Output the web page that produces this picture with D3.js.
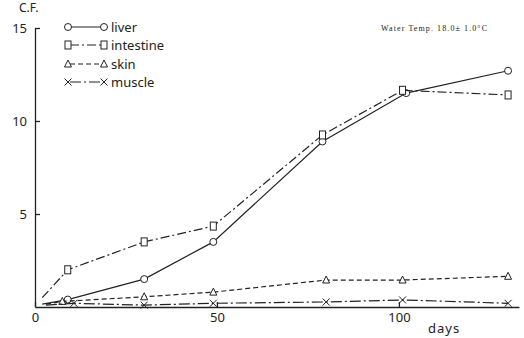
<!DOCTYPE html>
<html>
<head>
<meta charset="utf-8">
<script src="https://cdn.jsdelivr.net/npm/d3@7"></script>
<style>
  body { margin: 0; background: #fff; }
  text { font-family: "Noto Sans", "DejaVu Sans", sans-serif; fill: #222; }
</style>
</head>
<body>
<script>
// values (days, condition factor)
var liverDays = [2, 9, 30, 49, 79, 102, 130];
var liverCF = [0.15, 0.4, 1.5, 3.5, 8.9, 11.5, 12.7];
var intestineDays = [2, 9, 30, 49, 79, 101, 130];
var intestineCF = [0.5, 2.0, 3.5, 4.35, 9.25, 11.65, 11.4];
var skinDays = [3, 7.5, 30, 49, 80, 101, 130];
var skinCF = [0.15, 0.3, 0.55, 0.8, 1.45, 1.45, 1.65];
var muscleDays = [3, 10.7, 30, 49, 80, 101, 130];
var muscleCF = [0.1, 0.2, 0.1, 0.2, 0.27, 0.38, 0.2];
var yTicks = [5, 10, 15];
var xTicks = [0, 50, 100];

var width = 524, height = 338;
var svg = d3.select("body").append("svg")
    .attr("width", width)
    .attr("height", height);

var x = d3.scaleLinear().domain([0, 133]).range([35, 519]);
var y = d3.scaleLinear().domain([0, 15]).range([307, 28]);

// axes, ticks point inward
svg.append("g")
    .attr("transform", "translate(35,0)")
    .call(d3.axisLeft(y).tickValues(yTicks).tickSizeInner(-5).tickSizeOuter(0).tickPadding(8))
    .call(function (g) {
        g.selectAll("text").style("font-size", "13px").attr("fill", "#222");
        g.selectAll("line, path").attr("stroke", "#222").attr("stroke-width", 1.3);
    });

svg.append("g")
    .attr("transform", "translate(0,307)")
    .call(d3.axisBottom(x).tickValues(xTicks).tickSizeInner(-5).tickSizeOuter(0).tickPadding(6))
    .call(function (g) {
        g.selectAll("text").style("font-size", "13px").attr("fill", "#222");
        g.selectAll("line, path").attr("stroke", "#222").attr("stroke-width", 1.3);
    });

svg.append("text").attr("x", 19).attr("y", 12).style("font-size", "12px").text("C.F.");
svg.append("text").attr("x", 428).attr("y", 333).style("font-size", "13px")
    .style("letter-spacing", "1px").text("days");
svg.append("text").attr("x", 381).attr("y", 31)
    .attr("textLength", 106).attr("lengthAdjust", "spacing")
    .style("font-family", "'Liberation Serif', 'DejaVu Serif', serif")
    .style("font-size", "8px").text("Water Temp.  18.0± 1.0°C");

var series = [
    {name: "liver", days: liverDays, cf: liverCF, dash: null, mark: "circle", ly: 27},
    {name: "intestine", days: intestineDays, cf: intestineCF, dash: "9,3,2,3", mark: "square", ly: 45},
    {name: "skin", days: skinDays, cf: skinCF, dash: "5,3", mark: "triangle", ly: 64},
    {name: "muscle", days: muscleDays, cf: muscleCF, dash: "11,3,2,3", mark: "cross", ly: 82}
];

var line = d3.line()
    .x(function (d) { return x(d[0]); })
    .y(function (d) { return y(d[1]); });

function drawMark(g, kind, cx, cy) {
    if (kind === "circle") {
        g.append("circle").attr("cx", cx).attr("cy", cy).attr("r", 3.5);
    } else if (kind === "square") {
        g.append("rect").attr("x", cx - 3).attr("y", cy - 4).attr("width", 6).attr("height", 8);
    } else if (kind === "triangle") {
        g.append("path").attr("d", "M" + cx + "," + (cy - 4) + "L" + (cx + 3.5) + "," + (cy + 3) +
            "L" + (cx - 3.5) + "," + (cy + 3) + "Z");
    } else {
        g.append("path").attr("d", "M" + (cx - 3.5) + "," + (cy - 3.5) + "L" + (cx + 3.5) + "," + (cy + 3.5) +
            "M" + (cx + 3.5) + "," + (cy - 3.5) + "L" + (cx - 3.5) + "," + (cy + 3.5));
    }
}

series.forEach(function (s) {
    var pts = s.days.map(function (d, i) { return [d, s.cf[i]]; });
    svg.append("path")
        .datum(pts)
        .attr("d", line)
        .attr("fill", "none")
        .attr("stroke", "#222")
        .attr("stroke-width", 1.2)
        .attr("stroke-dasharray", s.dash);

    var mg = svg.append("g").attr("fill", "#fff").attr("stroke", "#222").attr("stroke-width", 1);
    pts.slice(1).forEach(function (p) {
        drawMark(mg, s.mark, x(p[0]), y(p[1]));
    });

    // legend
    svg.append("line")
        .attr("x1", 70).attr("x2", 103)
        .attr("y1", s.ly).attr("y2", s.ly)
        .attr("stroke", "#222").attr("stroke-width", 1.2)
        .attr("stroke-dasharray", s.dash);
    var lg = svg.append("g").attr("fill", "#fff").attr("stroke", "#222").attr("stroke-width", 1);
    drawMark(lg, s.mark, 68, s.ly);
    drawMark(lg, s.mark, 104, s.ly);
    svg.append("text")
        .attr("x", 111).attr("y", s.ly + 4.5)
        .style("font-size", "13px")
        .text(s.name);
});
</script>
</body>
</html>
